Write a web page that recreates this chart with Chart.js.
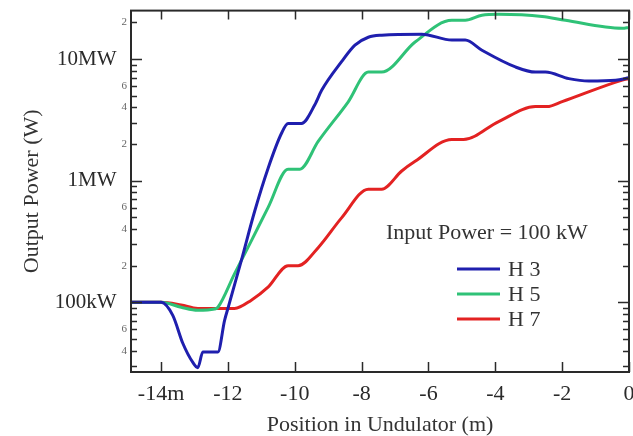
<!DOCTYPE html>
<html>
<head>
<meta charset="utf-8">
<script src="https://cdn.jsdelivr.net/npm/chart.js@4"></script>
<style>
  html, body { margin: 0; padding: 0; background: #fff; }
  canvas { display: block; }
</style>
</head>
<body>
<canvas id="chart" width="633" height="436"></canvas>
<script>
// positions along the undulator (m) and output power (W)
const h3Pos = [-14.9, -14, -13.65, -13.35, -13.05, -12.9, -12.75, -12.3, -12.1, -12, -11.6, -11.2, -10.8, -10.4, -10.2, -9.8, -9.4, -9.2, -8.6, -8.2, -7.8, -7.4, -6.2, -5.3, -4.9, -4.4, -3.4, -2.8, -2.5, -1.8, -1.2, -0.4, 0];
const h3Power = [1e5, 1e5, 7.8e4, 4.6e4, 3.2e4, 2.9e4, 3.9e4, 3.9e4, 7.1e4, 8.9e4, 2.2e5, 5.6e5, 1.26e6, 2.44e6, 2.95e6, 2.95e6, 4.2e6, 5.5e6, 9.5e6, 1.3e7, 1.51e7, 1.57e7, 1.6e7, 1.43e7, 1.43e7, 1.18e7, 8.6e6, 7.8e6, 7.8e6, 6.9e6, 6.6e6, 6.7e6, 7.0e6];

const h5Pos = [-14.9, -14, -13.4, -12.9, -12.4, -12.3, -11.8, -11.3, -10.8, -10.2, -9.85, -9.3, -8.4, -7.8, -7.4, -6.4, -5.3, -4.9, -4.4, -3.9, -2.6, -1.9, -0.2, 0];
const h5Power = [1e5, 1e5, 9.1e4, 8.6e4, 8.8e4, 9.1e4, 1.72e5, 3.2e5, 6.0e5, 1.24e6, 1.24e6, 2.1e6, 4.45e6, 7.8e6, 7.8e6, 1.38e7, 2.08e7, 2.08e7, 2.29e7, 2.33e7, 2.24e7, 2.08e7, 1.79e7, 1.82e7];

const h7Pos = [-14.9, -14, -13.4, -12.9, -12.05, -11.8, -11.3, -10.8, -10.2, -9.9, -9.3, -8.6, -7.8, -7.4, -6.8, -6.4, -5.3, -4.95, -3.9, -2.8, -2.45, -2.0, -0.2, 0];
const h7Power = [1e5, 1e5, 9.5e4, 8.9e4, 8.9e4, 8.9e4, 1.04e5, 1.33e5, 2.0e5, 2.0e5, 2.81e5, 4.94e5, 8.5e5, 8.5e5, 1.2e6, 1.44e6, 2.18e6, 2.18e6, 3.06e6, 4.06e6, 4.06e6, 4.46e6, 6.7e6, 6.9e6];

const xTickValues = [-14, -12, -10, -8, -6, -4, -2, 0];
const xTickLabels = ["-14m", "-12", "-10", "-8", "-6", "-4", "-2", "0"];

const yTickValues = [3e4, 4e4, 5e4, 6e4, 7e4, 8e4, 9e4,
  1e5, 2e5, 3e5, 4e5, 5e5, 6e5, 7e5, 8e5, 9e5,
  1e6, 2e6, 3e6, 4e6, 5e6, 6e6, 7e6, 8e6, 9e6,
  1e7, 2e7];
const yTickLabels = ["", "4", "", "6", "", "", "",
  "100kW  ", "2", "", "4", "", "6", "", "", "",
  "1MW  ", "2", "", "4", "", "6", "", "", "",
  "10MW  ", "2"];

const seriesNames = ["H 3", "H 5", "H 7"];
const noteText = "Input Power = 100 kW";

const SERIF = "'Liberation Serif', 'Times New Roman', serif";

function toPoints(xs, ys) {
  return xs.map((x, i) => ({ x: x, y: ys[i] }));
}

function isDecade(v) {
  const e = Math.log10(v);
  return Math.abs(e - Math.round(e)) < 1e-9;
}

// frame plus inward ticks on all four sides
const framePlugin = {
  id: "frame",
  afterDatasetsDraw(chart) {
    const { ctx, chartArea: a, scales } = chart;
    ctx.save();
    ctx.strokeStyle = "#2a2a2a";
    ctx.lineWidth = 1.5;

    ctx.beginPath();
    xTickValues.forEach(v => {
      const px = Math.round(scales.x.getPixelForValue(v)) + 0.5;
      ctx.moveTo(px, a.bottom);
      ctx.lineTo(px, a.bottom - 10);
      ctx.moveTo(px, a.top);
      ctx.lineTo(px, a.top + 9);
    });
    yTickValues.forEach(v => {
      const py = Math.round(scales.y.getPixelForValue(v)) + 0.5;
      const len = isDecade(v) ? 11 : 6;
      ctx.moveTo(a.left, py);
      ctx.lineTo(a.left + len, py);
      ctx.moveTo(a.right, py);
      ctx.lineTo(a.right - len, py);
    });
    ctx.stroke();

    ctx.lineWidth = 2;
    ctx.strokeRect(a.left, a.top, a.right - a.left, a.bottom - a.top);
    ctx.restore();
  }
};

// the note and the legend sit inside the plot, lower right
const notePlugin = {
  id: "note",
  afterDraw(chart) {
    const { ctx } = chart;
    ctx.save();
    ctx.font = "22px " + SERIF;
    ctx.fillStyle = "#333";
    ctx.textBaseline = "middle";
    ctx.textAlign = "left";
    ctx.fillText(noteText, 386, 233);

    chart.data.datasets.forEach((ds, i) => {
      const y = 269 + i * 25;
      ctx.strokeStyle = ds.borderColor;
      ctx.lineWidth = 3;
      ctx.beginPath();
      ctx.moveTo(457, y);
      ctx.lineTo(500, y);
      ctx.stroke();
      ctx.fillText(ds.label, 508, y + 1);
    });
    ctx.restore();
  }
};

new Chart(document.getElementById("chart"), {
  type: "line",
  data: {
    datasets: [
      { label: seriesNames[0], data: toPoints(h3Pos, h3Power), borderColor: "#1f1fae" },
      { label: seriesNames[1], data: toPoints(h5Pos, h5Power), borderColor: "#2fc277" },
      { label: seriesNames[2], data: toPoints(h7Pos, h7Power), borderColor: "#e32222" }
    ]
  },
  options: {
    responsive: false,
    animation: false,
    layout: { padding: { top: 8, right: 4, left: 0, bottom: 0 } },
    elements: {
      point: { radius: 0 },
      line: { borderWidth: 3, cubicInterpolationMode: "monotone", fill: false }
    },
    plugins: {
      legend: { display: false },
      tooltip: { enabled: false }
    },
    scales: {
      x: {
        type: "linear",
        min: -14.9,
        max: 0,
        grid: { display: false, drawTicks: false },
        border: { display: false },
        afterBuildTicks: scale => {
          scale.ticks = xTickValues.map(v => ({ value: v }));
        },
        afterFit: scale => {
          scale.height = 64;
          scale.paddingRight = 0;
          scale.paddingLeft = 0;
        },
        ticks: {
          autoSkip: false,
          maxRotation: 0,
          padding: 9,
          color: "#2a2a2a",
          font: { family: SERIF, size: 22 },
          callback: (v, i) => xTickLabels[i]
        },
        title: {
          display: true,
          text: "Position in Undulator (m)",
          color: "#333",
          font: { family: SERIF, size: 22, lineHeight: 1 },
          padding: { top: 0, bottom: 0 }
        }
      },
      y: {
        type: "logarithmic",
        min: 2.67e4,
        max: 2.5e7,
        grid: { display: false, drawTicks: false },
        border: { display: false },
        afterBuildTicks: scale => {
          scale.ticks = yTickValues.map(v => ({ value: v, major: isDecade(v) }));
        },
        afterFit: scale => {
          scale.width = 131;
        },
        ticks: {
          autoSkip: false,
          padding: 4,
          color: ctx => (yTickLabels[ctx.index] || "").length > 1 ? "#2a2a2a" : "#666",
          font: ctx => (yTickLabels[ctx.index] || "").length > 1
            ? { family: SERIF, size: 21 }
            : { family: SERIF, size: 11 },
          callback: (v, i) => yTickLabels[i]
        },
        title: {
          display: true,
          text: "Output Power (W)",
          color: "#333",
          font: { family: SERIF, size: 22 },
          padding: { top: 19, bottom: 0 }
        }
      }
    }
  },
  plugins: [framePlugin, notePlugin]
});
</script>
</body>
</html>
